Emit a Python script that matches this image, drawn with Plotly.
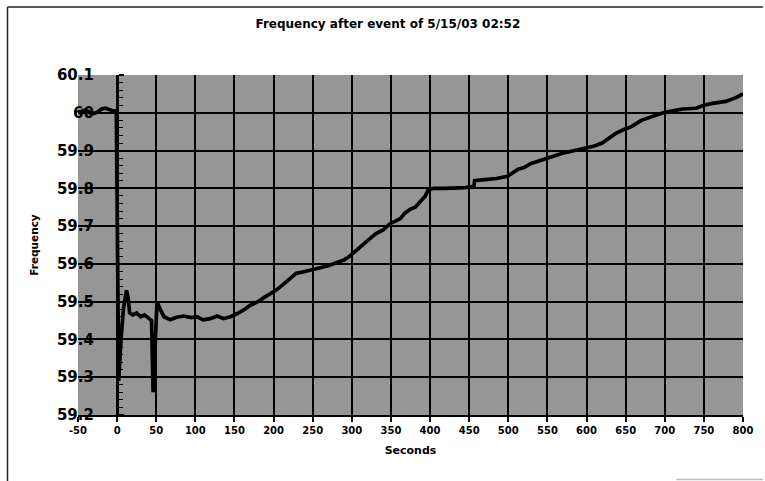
import plotly.graph_objects as go

seconds = [-50, -45, -40, -35, -30, -25, -20, -15, -10, -5, -1, 0.5, 2, 5, 8, 12, 14, 16, 20, 25, 30,
           35, 40, 44, 46, 48, 51, 55, 60, 68, 75, 85, 95, 102, 110, 119, 128, 136, 145, 153, 162,
           170, 180, 187, 195, 203, 212, 220, 229, 240, 250, 262, 270, 280, 290, 297, 305, 314, 322,
           331, 340, 348, 356, 362, 368, 375, 381, 388, 394, 398, 405, 420, 432, 445, 456, 457, 470,
           485, 499, 505, 512, 520, 529, 540, 550, 560, 571, 585, 597, 610, 620, 627, 632, 637, 647,
           658, 670, 685, 698, 710, 723, 740, 750, 761, 778, 791, 800]
frequency = [60.000, 60.005, 60.008, 60.000, 59.998, 60.002, 60.010, 60.012, 60.008, 60.005, 60.005,
             59.50, 59.29, 59.40, 59.48, 59.53, 59.51, 59.47, 59.465, 59.47, 59.46,
             59.465, 59.455, 59.45, 59.26, 59.38, 59.50, 59.48, 59.46, 59.452, 59.458, 59.462, 59.458,
             59.46, 59.452, 59.455, 59.462, 59.455, 59.46, 59.468, 59.478,
             59.49, 59.50, 59.51, 59.52, 59.53, 59.545, 59.56, 59.575, 59.58, 59.585, 59.59, 59.595,
             59.603, 59.61, 59.62, 59.635, 59.65, 59.665,
             59.68, 59.69, 59.705, 59.715, 59.72, 59.735, 59.745, 59.75, 59.765, 59.78, 59.797, 59.80,
             59.80, 59.80, 59.802, 59.805, 59.82, 59.823,
             59.826, 59.832, 59.84, 59.85, 59.855, 59.866, 59.873, 59.88, 59.886, 59.894, 59.90,
             59.906, 59.912, 59.92, 59.93, 59.94, 59.945, 59.955,
             59.964, 59.98, 59.99, 60.00, 60.005, 60.01, 60.012, 60.02, 60.025, 60.03, 60.04, 60.05]

x_ticks = list(range(-50, 801, 50))
y_ticks = [59.2, 59.3, 59.4, 59.5, 59.6, 59.7, 59.8, 59.9, 60.0, 60.1]
y_tick_labels = ["59.2", "59.3", "59.4", "59.5", "59.6", "59.7", "59.8", "59.9", "60", "60.1"]

title_text = "Frequency after event of 5/15/03 02:52"
x_title = "Seconds"
y_title = "Frequency"

FONT = "DejaVu Sans, Arial, sans-serif"
x_range = [-50, 800]
y_range = [59.2, 60.1]

fig = go.Figure()
fig.add_trace(go.Scatter(x=seconds, y=frequency, mode="lines",
                         line=dict(color="black", width=3.7), showlegend=False, hoverinfo="x+y"))
# invisible copy on the secondary axis so that the crossing value axis is drawn
fig.add_trace(go.Scatter(x=seconds, y=frequency, yaxis="y2", mode="lines",
                         line=dict(color="rgba(0,0,0,0)", width=0), showlegend=False, hoverinfo="skip"))

# value axis crosses the category axis at x = 0
y2_pos = (0 - x_range[0]) / (x_range[1] - x_range[0])

fig.update_layout(
    width=765, height=481,
    margin=dict(l=78, r=17, t=75, b=66),
    paper_bgcolor="white",
    plot_bgcolor="#969696",
    title=dict(text=f"<b>{title_text}</b>", x=0.507, xanchor="center", y=0.95, yanchor="middle",
               font=dict(family=FONT, size=12, color="black")),
    xaxis=dict(range=x_range, tickvals=x_ticks, ticktext=[str(v) for v in x_ticks],
               showgrid=True, gridcolor="black", gridwidth=1.5,
               ticks="outside", ticklen=5, tickwidth=1.5, tickcolor="black",
               showline=True, linecolor="black", linewidth=1.5,
               tickfont=dict(family=FONT, size=10, color="black", weight="bold"),
               title=dict(text=f"<b>{x_title}</b>", standoff=12,
                          font=dict(family=FONT, size=11, color="black")),
               zeroline=False),
    yaxis=dict(range=y_range, tickvals=y_ticks, ticktext=y_tick_labels,
               anchor="free", position=0.024,
               showgrid=True, gridcolor="black", gridwidth=1.5,
               ticks="", showline=False, zeroline=False,
               tickfont=dict(family=FONT, size=15, color="black", weight="bold"),
               title=dict(text=f"<b>{y_title}</b>", standoff=15,
                          font=dict(family=FONT, size=10.5, color="black"))),
    yaxis2=dict(range=y_range, overlaying="y", anchor="free", position=y2_pos, side="right",
                showgrid=False, zeroline=False, showticklabels=False,
                showline=True, linecolor="black", linewidth=2.5,
                tickvals=y_ticks, ticks="outside", ticklen=5, tickwidth=1.5, tickcolor="black",
                minor=dict(dtick=0.02, ticks="outside", ticklen=4, tickwidth=1, tickcolor="black")),
)

# outer frame (left and top edges of the chart border)
fig.add_shape(type="line", xref="paper", yref="paper", x0=-0.106, x1=-0.106, y0=1.2, y1=-0.194,
              line=dict(color="#222", width=1.5))
fig.add_shape(type="line", xref="paper", yref="paper", x0=-0.106, x1=1.03, y0=1.2, y1=1.2,
              line=dict(color="#222", width=1.5))
fig.add_shape(type="line", xref="paper", yref="paper", x0=0.9, x1=1.03, y0=-0.19, y1=-0.19,
              line=dict(color="#bbb", width=1.5))

fig.write_html("out.html", config={"displayModeBar": False},
               post_script="document.body.style.margin='0';document.body.style.overflow='hidden';")
